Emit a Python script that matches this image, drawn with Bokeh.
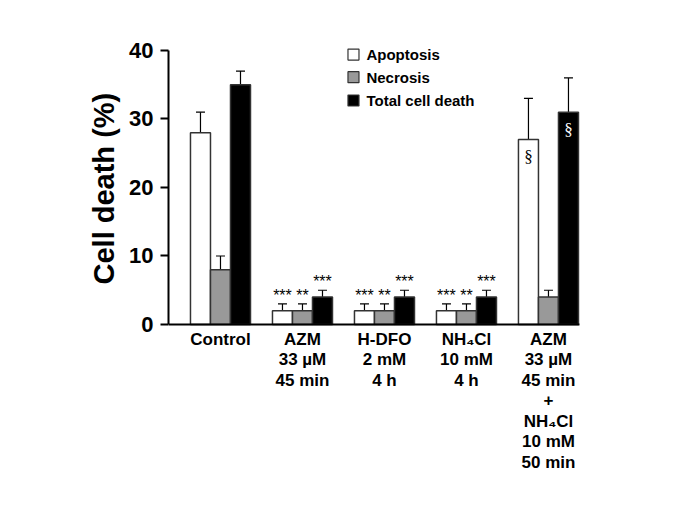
from bokeh.plotting import figure
from bokeh.models import Range1d, ColumnDataSource, Whisker, TeeHead, FixedTicker, Title
from bokeh.core.properties import value
from bokeh.embed import file_html
from bokeh.resources import INLINE

groups = ["Control", "AZM\n33 µM\n45 min", "H-DFO\n2 mM\n4 h", "NH\u2084Cl\n10 mM\n4 h",
          "AZM\n33 µM\n45 min\n+\nNH\u2084Cl\n10 mM\n50 min"]
apoptosis = [28, 2, 2, 2, 27]
apoptosis_err = [3, 1, 1, 1, 6]
necrosis = [8, 2, 2, 2, 4]
necrosis_err = [2, 1, 1, 1, 1]
total = [35, 4, 4, 4, 31]
total_err = [2, 1, 1, 1, 5]
apoptosis_sig = ["", "***", "***", "***", "§"]
necrosis_sig = ["", "**", "**", "**", ""]
total_sig = ["", "***", "***", "***", "§"]
series_names = ["Apoptosis", "Necrosis", "Total cell death"]
series_colors = ["#ffffff", "#999999", "#000000"]
y_ticks = [0, 10, 20, 30, 40]

FONT = "Liberation Sans"
BW = 0.244
offsets = [-BW, 0.0, BW]

p = figure(width=669, height=497, output_backend="svg", toolbar_location=None,
           x_range=Range1d(-0.634, 5.22), y_range=Range1d(-23.94, 41.75),
           min_border_left=168, min_border_right=21, min_border_top=38, min_border_bottom=9)
p.outline_line_color = None
p.grid.visible = False
p.xaxis.visible = False
p.background_fill_color = "white"

ya = p.yaxis[0]
ya.bounds = (0, 40)
ya.ticker = FixedTicker(ticks=y_ticks)
ya.minor_tick_line_color = None
ya.major_tick_in = 0
ya.major_tick_out = 8
ya.major_tick_line_width = 2
ya.axis_line_width = 2
ya.major_label_text_font = FONT
ya.major_label_text_font_style = "bold"
ya.major_label_text_font_size = "22px"
ya.major_label_text_color = "black"
ya.major_label_standoff = 7

ylab = Title(text="Cell death (%)", align="left", offset=204, standoff=14,
             text_font=FONT, text_font_style="bold", text_font_size="29px",
             text_color="black")
p.add_layout(ylab, "left")

xs = list(range(len(groups)))
series = [(apoptosis, apoptosis_err, apoptosis_sig),
          (necrosis, necrosis_err, necrosis_sig),
          (total, total_err, total_sig)]

for k, ((vals, errs, sigs), color) in enumerate(zip(series, series_colors)):
    x = [i + offsets[k] for i in xs]
    src = ColumnDataSource(dict(x=x, top=vals, upper=[v + e for v, e in zip(vals, errs)]))
    p.vbar(x="x", top="top", bottom=0, width=BW, source=src, fill_color=color,
           line_color="#333333", line_width=1.5)
    p.add_layout(Whisker(base="x", lower="top", upper="upper", source=src, dimension="height",
                         line_color="black", line_width=1.2,
                         upper_head=TeeHead(size=9, line_color="black", line_width=1.2),
                         lower_head=None))
    star_x, star_y, star_t = [], [], []
    sec_x, sec_y, sec_t = [], [], []
    for i, s in enumerate(sigs):
        if s == "§":
            sec_x.append(x[i]); sec_y.append(vals[i] - 2.5); sec_t.append(s)
        elif s:
            star_x.append(x[i]); star_y.append(vals[i] + errs[i] + 1.3); star_t.append(s)
    if star_t:
        p.text(x=star_x, y=star_y, text=star_t, text_align="center", text_baseline="alphabetic",
               text_font=value(FONT), text_font_size="16px", text_color="black")
    if sec_t:
        p.text(x=sec_x, y=sec_y, text=sec_t, text_align="center", text_baseline="middle",
               text_font=value("Liberation Serif"), text_font_size="17px",
               text_color="white" if color == "#000000" else "black")

# baseline (x axis line)
p.segment(x0=[-0.634], y0=[0], x1=[4.378], y1=[0], line_color="black", line_width=2)

# category labels
p.text(x=xs, y=[-0.73] * len(xs), text=groups, text_align="center", text_baseline="top",
       text_font=value(FONT), text_font_style="bold", text_font_size="17px",
       text_line_height=1.08, text_color="black")

# legend
leg_y = [39.4, 36.1, 32.7]
p.scatter(x=[1.622] * 3, y=leg_y, marker="square", size=11, fill_color=series_colors,
          line_color="#333333", line_width=1.2)
p.text(x=[1.78] * 3, y=leg_y, text=series_names, text_align="left", text_baseline="middle",
       text_font=value(FONT), text_font_style="bold", text_font_size="15px", text_color="black")

open("out.html", "w").write(file_html(p, INLINE))
